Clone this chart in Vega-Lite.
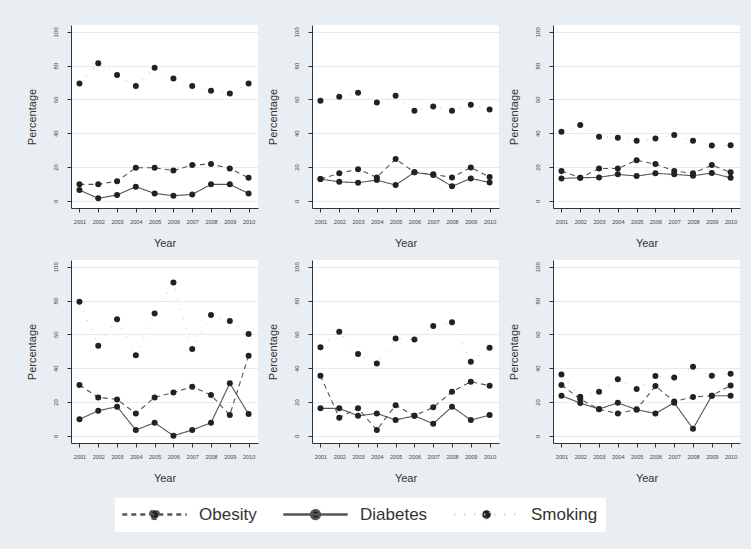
{
  "$schema": "https://vega.github.io/schema/vega-lite/v6.json",
  "background": "#e8eef1",
  "padding": {"left": 26, "top": 25, "right": 13, "bottom": 17},
  "data": {"values": [
    {"p":1,"s":"Obesity","year":2001,"v":9.7},{"p":1,"s":"Obesity","year":2002,"v":9.7},{"p":1,"s":"Obesity","year":2003,"v":11.6},{"p":1,"s":"Obesity","year":2004,"v":19.5},{"p":1,"s":"Obesity","year":2005,"v":19.5},{"p":1,"s":"Obesity","year":2006,"v":17.9},{"p":1,"s":"Obesity","year":2007,"v":21.1},{"p":1,"s":"Obesity","year":2008,"v":21.7},{"p":1,"s":"Obesity","year":2009,"v":19.1},{"p":1,"s":"Obesity","year":2010,"v":13.6},
    {"p":1,"s":"Diabetes","year":2001,"v":6.3},{"p":1,"s":"Diabetes","year":2002,"v":1.4},{"p":1,"s":"Diabetes","year":2003,"v":3.4},{"p":1,"s":"Diabetes","year":2004,"v":8.3},{"p":1,"s":"Diabetes","year":2005,"v":4.3},{"p":1,"s":"Diabetes","year":2006,"v":3.0},{"p":1,"s":"Diabetes","year":2007,"v":3.7},{"p":1,"s":"Diabetes","year":2008,"v":9.7},{"p":1,"s":"Diabetes","year":2009,"v":9.7},{"p":1,"s":"Diabetes","year":2010,"v":4.3},
    {"p":1,"s":"Smoking","year":2001,"v":69.4},{"p":1,"s":"Smoking","year":2002,"v":81.3},{"p":1,"s":"Smoking","year":2003,"v":74.4},{"p":1,"s":"Smoking","year":2004,"v":67.9},{"p":1,"s":"Smoking","year":2005,"v":78.7},{"p":1,"s":"Smoking","year":2006,"v":72.4},{"p":1,"s":"Smoking","year":2007,"v":67.9},{"p":1,"s":"Smoking","year":2008,"v":65.1},{"p":1,"s":"Smoking","year":2009,"v":63.5},{"p":1,"s":"Smoking","year":2010,"v":69.4},
    {"p":2,"s":"Obesity","year":2001,"v":12.8},{"p":2,"s":"Obesity","year":2002,"v":16.2},{"p":2,"s":"Obesity","year":2003,"v":18.7},{"p":2,"s":"Obesity","year":2004,"v":13.8},{"p":2,"s":"Obesity","year":2005,"v":24.7},{"p":2,"s":"Obesity","year":2006,"v":16.8},{"p":2,"s":"Obesity","year":2007,"v":15.6},{"p":2,"s":"Obesity","year":2008,"v":13.8},{"p":2,"s":"Obesity","year":2009,"v":19.7},{"p":2,"s":"Obesity","year":2010,"v":14.0},
    {"p":2,"s":"Diabetes","year":2001,"v":12.8},{"p":2,"s":"Diabetes","year":2002,"v":11.2},{"p":2,"s":"Diabetes","year":2003,"v":10.7},{"p":2,"s":"Diabetes","year":2004,"v":12.2},{"p":2,"s":"Diabetes","year":2005,"v":9.3},{"p":2,"s":"Diabetes","year":2006,"v":16.8},{"p":2,"s":"Diabetes","year":2007,"v":15.2},{"p":2,"s":"Diabetes","year":2008,"v":8.5},{"p":2,"s":"Diabetes","year":2009,"v":13.2},{"p":2,"s":"Diabetes","year":2010,"v":10.8},
    {"p":2,"s":"Smoking","year":2001,"v":59.2},{"p":2,"s":"Smoking","year":2002,"v":61.5},{"p":2,"s":"Smoking","year":2003,"v":63.9},{"p":2,"s":"Smoking","year":2004,"v":58.2},{"p":2,"s":"Smoking","year":2005,"v":62.1},{"p":2,"s":"Smoking","year":2006,"v":53.3},{"p":2,"s":"Smoking","year":2007,"v":55.8},{"p":2,"s":"Smoking","year":2008,"v":53.3},{"p":2,"s":"Smoking","year":2009,"v":56.8},{"p":2,"s":"Smoking","year":2010,"v":54.0},
    {"p":3,"s":"Obesity","year":2001,"v":17.6},{"p":3,"s":"Obesity","year":2002,"v":13.6},{"p":3,"s":"Obesity","year":2003,"v":19.1},{"p":3,"s":"Obesity","year":2004,"v":19.1},{"p":3,"s":"Obesity","year":2005,"v":23.9},{"p":3,"s":"Obesity","year":2006,"v":21.7},{"p":3,"s":"Obesity","year":2007,"v":17.6},{"p":3,"s":"Obesity","year":2008,"v":16.2},{"p":3,"s":"Obesity","year":2009,"v":21.1},{"p":3,"s":"Obesity","year":2010,"v":16.8},
    {"p":3,"s":"Diabetes","year":2001,"v":13.2},{"p":3,"s":"Diabetes","year":2002,"v":13.6},{"p":3,"s":"Diabetes","year":2003,"v":13.8},{"p":3,"s":"Diabetes","year":2004,"v":15.6},{"p":3,"s":"Diabetes","year":2005,"v":14.6},{"p":3,"s":"Diabetes","year":2006,"v":16.2},{"p":3,"s":"Diabetes","year":2007,"v":15.6},{"p":3,"s":"Diabetes","year":2008,"v":14.8},{"p":3,"s":"Diabetes","year":2009,"v":16.4},{"p":3,"s":"Diabetes","year":2010,"v":13.6},
    {"p":3,"s":"Smoking","year":2001,"v":40.8},{"p":3,"s":"Smoking","year":2002,"v":44.8},{"p":3,"s":"Smoking","year":2003,"v":37.9},{"p":3,"s":"Smoking","year":2004,"v":37.3},{"p":3,"s":"Smoking","year":2005,"v":35.5},{"p":3,"s":"Smoking","year":2006,"v":36.9},{"p":3,"s":"Smoking","year":2007,"v":38.9},{"p":3,"s":"Smoking","year":2008,"v":35.5},{"p":3,"s":"Smoking","year":2009,"v":32.7},{"p":3,"s":"Smoking","year":2010,"v":32.9},
    {"p":4,"s":"Obesity","year":2001,"v":30.0},{"p":4,"s":"Obesity","year":2002,"v":22.7},{"p":4,"s":"Obesity","year":2003,"v":21.5},{"p":4,"s":"Obesity","year":2004,"v":13.2},{"p":4,"s":"Obesity","year":2005,"v":22.7},{"p":4,"s":"Obesity","year":2006,"v":25.6},{"p":4,"s":"Obesity","year":2007,"v":29.0},{"p":4,"s":"Obesity","year":2008,"v":24.1},{"p":4,"s":"Obesity","year":2009,"v":12.2},{"p":4,"s":"Obesity","year":2010,"v":47.3},
    {"p":4,"s":"Diabetes","year":2001,"v":9.7},{"p":4,"s":"Diabetes","year":2002,"v":14.8},{"p":4,"s":"Diabetes","year":2003,"v":17.2},{"p":4,"s":"Diabetes","year":2004,"v":3.4},{"p":4,"s":"Diabetes","year":2005,"v":7.7},{"p":4,"s":"Diabetes","year":2006,"v":0.0},{"p":4,"s":"Diabetes","year":2007,"v":3.4},{"p":4,"s":"Diabetes","year":2008,"v":7.7},{"p":4,"s":"Diabetes","year":2009,"v":31.0},{"p":4,"s":"Diabetes","year":2010,"v":12.8},
    {"p":4,"s":"Smoking","year":2001,"v":79.3},{"p":4,"s":"Smoking","year":2002,"v":53.3},{"p":4,"s":"Smoking","year":2003,"v":69.0},{"p":4,"s":"Smoking","year":2004,"v":47.7},{"p":4,"s":"Smoking","year":2005,"v":72.4},{"p":4,"s":"Smoking","year":2006,"v":90.7},{"p":4,"s":"Smoking","year":2007,"v":51.3},{"p":4,"s":"Smoking","year":2008,"v":71.4},{"p":4,"s":"Smoking","year":2009,"v":67.9},{"p":4,"s":"Smoking","year":2010,"v":60.2},
    {"p":5,"s":"Obesity","year":2001,"v":35.5},{"p":5,"s":"Obesity","year":2002,"v":10.7},{"p":5,"s":"Obesity","year":2003,"v":16.2},{"p":5,"s":"Obesity","year":2004,"v":3.4},{"p":5,"s":"Obesity","year":2005,"v":18.1},{"p":5,"s":"Obesity","year":2006,"v":11.8},{"p":5,"s":"Obesity","year":2007,"v":16.8},{"p":5,"s":"Obesity","year":2008,"v":26.0},{"p":5,"s":"Obesity","year":2009,"v":32.0},{"p":5,"s":"Obesity","year":2010,"v":29.6},
    {"p":5,"s":"Diabetes","year":2001,"v":16.2},{"p":5,"s":"Diabetes","year":2002,"v":16.2},{"p":5,"s":"Diabetes","year":2003,"v":11.8},{"p":5,"s":"Diabetes","year":2004,"v":13.2},{"p":5,"s":"Diabetes","year":2005,"v":9.3},{"p":5,"s":"Diabetes","year":2006,"v":11.8},{"p":5,"s":"Diabetes","year":2007,"v":7.1},{"p":5,"s":"Diabetes","year":2008,"v":17.2},{"p":5,"s":"Diabetes","year":2009,"v":9.3},{"p":5,"s":"Diabetes","year":2010,"v":12.2},
    {"p":5,"s":"Smoking","year":2001,"v":52.3},{"p":5,"s":"Smoking","year":2002,"v":61.5},{"p":5,"s":"Smoking","year":2003,"v":48.3},{"p":5,"s":"Smoking","year":2004,"v":42.8},{"p":5,"s":"Smoking","year":2005,"v":57.6},{"p":5,"s":"Smoking","year":2006,"v":57.0},{"p":5,"s":"Smoking","year":2007,"v":64.9},{"p":5,"s":"Smoking","year":2008,"v":67.1},{"p":5,"s":"Smoking","year":2009,"v":43.8},{"p":5,"s":"Smoking","year":2010,"v":52.1},
    {"p":6,"s":"Obesity","year":2001,"v":30.0},{"p":6,"s":"Obesity","year":2002,"v":21.7},{"p":6,"s":"Obesity","year":2003,"v":15.6},{"p":6,"s":"Obesity","year":2004,"v":13.2},{"p":6,"s":"Obesity","year":2005,"v":15.6},{"p":6,"s":"Obesity","year":2006,"v":29.4},{"p":6,"s":"Obesity","year":2007,"v":20.3},{"p":6,"s":"Obesity","year":2008,"v":22.9},{"p":6,"s":"Obesity","year":2009,"v":23.7},{"p":6,"s":"Obesity","year":2010,"v":29.8},
    {"p":6,"s":"Diabetes","year":2001,"v":23.7},{"p":6,"s":"Diabetes","year":2002,"v":19.3},{"p":6,"s":"Diabetes","year":2003,"v":15.8},{"p":6,"s":"Diabetes","year":2004,"v":19.5},{"p":6,"s":"Diabetes","year":2005,"v":15.4},{"p":6,"s":"Diabetes","year":2006,"v":13.2},{"p":6,"s":"Diabetes","year":2007,"v":19.5},{"p":6,"s":"Diabetes","year":2008,"v":4.1},{"p":6,"s":"Diabetes","year":2009,"v":23.7},{"p":6,"s":"Diabetes","year":2010,"v":23.7},
    {"p":6,"s":"Smoking","year":2001,"v":36.3},{"p":6,"s":"Smoking","year":2002,"v":23.1},{"p":6,"s":"Smoking","year":2003,"v":26.0},{"p":6,"s":"Smoking","year":2004,"v":33.5},{"p":6,"s":"Smoking","year":2005,"v":27.6},{"p":6,"s":"Smoking","year":2006,"v":35.3},{"p":6,"s":"Smoking","year":2007,"v":34.5},{"p":6,"s":"Smoking","year":2008,"v":40.8},{"p":6,"s":"Smoking","year":2009,"v":35.5},{"p":6,"s":"Smoking","year":2010,"v":36.7}
  ]},
  "facet": {"field": "p", "type": "ordinal", "header": {"title": null, "labels": false, "labelExpr": "''", "labelFontSize": 0, "labelPadding": 0}},
  "columns": 3,
  "spacing": {"row": 11, "column": 9},
  "resolve": {"axis": {"x": "independent", "y": "independent"}},
  "spec": {
    "width": 187,
    "height": 183,
    "encoding": {
      "x": {"field": "year", "type": "quantitative",
        "scale": {"domain": [2000.55, 2010.5], "nice": false, "zero": false},
        "axis": {"title": "Year", "values": [2001,2002,2003,2004,2005,2006,2007,2008,2009,2010], "format": "d",
          "labelFontSize": 5.5, "labelOverlap": false, "labelFlush": false, "labelPadding": 7, "tickSize": 4,
          "titleFontSize": 11, "titlePadding": 13, "grid": false}},
      "y": {"field": "v", "type": "quantitative",
        "scale": {"domain": [-4.3, 104], "nice": false, "zero": false},
        "axis": {"title": "Percentage", "values": [0,20,40,60,80,100], "labelAngle": 270,
          "labelFontSize": 6, "labelPadding": 9, "tickSize": 4, "titleFontSize": 11, "titlePadding": 15,
          "grid": true, "gridColor": "#e4ecef", "gridWidth": 1.2}}
    },
    "layer": [
      {"mark": {"type": "line", "strokeWidth": 1.1},
       "encoding": {
         "strokeDash": {"field": "s", "type": "nominal",
           "scale": {"domain": ["Obesity", "Diabetes", "Smoking"], "range": [[5, 4], [1, 0], [1, 9]]},
           "legend": {"title": null, "orient": "none", "legendX": 44, "legendY": 473, "direction": "horizontal",
             "symbolType": "M-4.6,0H4.6M-0.62,0A0.62,0.62,0,1,1,0.62,0A0.62,0.62,0,1,1,-0.62,0Z",
             "symbolSize": 196, "symbolStrokeWidth": 2.5,
             "labelFontSize": 17, "labelColor": "#333333", "labelOffset": 59, "columnPadding": 21,
             "fillColor": "white", "padding": 8,
             "encode": {"symbols": {"update": {"x": {"value": 31.5}, "fill": {"value": "#222222"}, "stroke": {"value": "#a0a0a0"}, "opacity": {"value": 1}}}}}},
         "color": {"field": "s", "type": "nominal",
           "scale": {"domain": ["Obesity", "Diabetes", "Smoking"], "range": ["#555555", "#555555", "#c8c8c8"]},
           "legend": {"title": null, "orient": "none", "legendX": 44, "legendY": 473, "direction": "horizontal",
             "symbolType": "M-4.6,0H4.6M-0.62,0A0.62,0.62,0,1,1,0.62,0A0.62,0.62,0,1,1,-0.62,0Z",
             "symbolSize": 196, "symbolStrokeWidth": 2.5,
             "labelFontSize": 17, "labelColor": "#333333", "labelOffset": 59, "columnPadding": 21,
             "fillColor": "white", "padding": 8,
             "encode": {"symbols": {"update": {"x": {"value": 31.5}, "fill": {"value": "#222222"}, "stroke": {"value": "#a0a0a0"}, "opacity": {"value": 1}}}}}}
       }},
      {"mark": {"type": "point", "filled": true, "shape": "circle", "size": 36, "color": "#222222", "opacity": 1},
       "encoding": {"detail": {"field": "s", "type": "nominal"}}}
    ]
  },
  "config": {
    "font": "Liberation Sans",
    "header": {"labels": false, "title": null, "labelFontSize": 0, "labelPadding": 0},
    "view": {"fill": "white", "stroke": null},
    "axis": {"domainColor": "#333333", "tickColor": "#333333", "labelColor": "#444444", "titleColor": "#333333",
      "titleFontWeight": "normal", "domainWidth": 1, "tickWidth": 1}
  }
}
